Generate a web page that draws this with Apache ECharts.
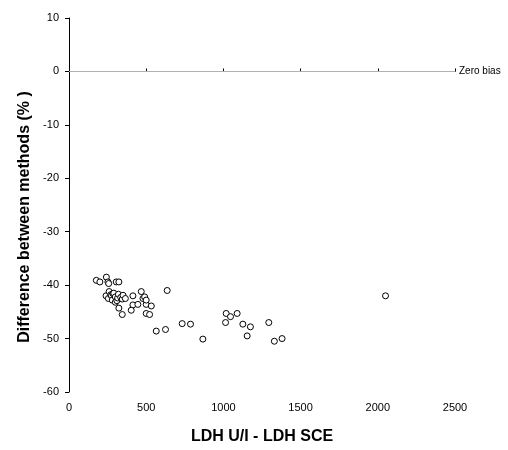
<!DOCTYPE html>
<html>
<head>
<meta charset="utf-8">
<script src="https://cdn.jsdelivr.net/npm/echarts@6/dist/echarts.min.js"></script>
<style>
  html, body { margin: 0; padding: 0; background: #fff; }
  #chart { width: 508px; height: 450px; }
</style>
</head>
<body>
<div id="chart"></div>
<script>
// LDH U/I - LDH SCE (x) vs difference between methods in % (y)
var ldhDiff = [177, 200, 242, 252, 257, 306, 323,
    240, 255, 260, 270, 275, 280, 285, 290, 300, 300, 310, 315, 320, 335, 345, 350, 365,
    414, 468, 479, 414, 446, 403, 323, 345, 500, 500, 490, 500, 533, 522,
    636, 565, 625, 733, 787, 867, 1018, 1046, 1089, 1014, 1126, 1175, 1154,
    1294, 1330, 1380, 2050];
var pctDiff = [-39.1, -39.4, -38.5, -39.4, -39.7, -39.4, -39.4,
    -42.0, -42.5, -41.2, -41.8, -42.0, -42.8, -41.6, -41.5, -42.2, -43.2, -42.9, -42.4, -41.7, -42.3, -42.6, -41.9, -42.5,
    -42.0, -41.2, -42.5, -43.7, -43.6, -44.7, -44.3, -45.5, -43.6, -45.3, -42.2, -42.8, -43.9, -45.5,
    -41.0, -48.6, -48.3, -47.2, -47.3, -50.1, -45.3, -45.9, -45.3, -47.0, -47.3, -47.8, -49.5,
    -47.0, -50.5, -50.0, -42.0];
var xTicks = [0, 2500, 500];
var yTicks = [-60, 10, 10];

var points = ldhDiff.map(function (x, i) { return [x, pctDiff[i]]; });

var chart = echarts.init(document.getElementById('chart'));
var font = 'Liberation Sans, Arial, sans-serif';
chart.setOption({
    animation: false,
    backgroundColor: '#ffffff',
    grid: {
        left: 69,
        right: 53,
        top: 18,
        bottom: 58,
    },
    xAxis: {
        type: 'value',
        min: xTicks[0],
        max: xTicks[1],
        interval: xTicks[2],
        name: 'LDH U/I - LDH SCE',
        nameLocation: 'middle',
        nameGap: 37,
        nameTextStyle: {
            fontFamily: font,
            fontWeight: 'bold',
            fontSize: 16,
            color: '#000',
        },
        axisLine: { lineStyle: { color: '#000', width: 1 } },
        axisTick: { inside: true, length: 3, lineStyle: { color: '#000' } },
        axisLabel: {
            color: '#000', fontSize: 11, fontFamily: font, margin: 10,
            formatter: function (v) { return String(v); },
        },
        splitLine: { show: false },
    },
    yAxis: {
        type: 'value',
        min: yTicks[0],
        max: yTicks[1],
        interval: yTicks[2],
        name: 'Difference between methods (% )',
        nameLocation: 'middle',
        nameGap: 33,
        nameTextStyle: {
            fontFamily: font,
            fontWeight: 'bold',
            fontSize: 16,
            color: '#000',
            padding: [0, 0, 0, -24],
        },
        axisLine: { show: true, lineStyle: { color: '#000', width: 1 } },
        axisTick: { show: true, length: 4, lineStyle: { color: '#000' } },
        axisLabel: { color: '#000', fontSize: 11, fontFamily: font, margin: 10 },
        splitLine: { show: false },
    },
    series: [{
        type: 'scatter',
        data: points,
        symbol: 'circle',
        symbolSize: 6,
        itemStyle: {
            color: '#ffffff',
            borderColor: '#000000',
            borderWidth: 1,
            opacity: 1,
        },
        markLine: {
            silent: true,
            symbol: 'none',
            lineStyle: { color: '#b0b0b0', width: 1, type: 'solid' },
            label: {
                show: true,
                position: 'end',
                formatter: 'Zero bias',
                fontSize: 10,
                fontFamily: font,
                color: '#000',
                distance: 4,
            },
            data: [{ yAxis: 0 }],
        },
    }],
});
</script>
</body>
</html>
